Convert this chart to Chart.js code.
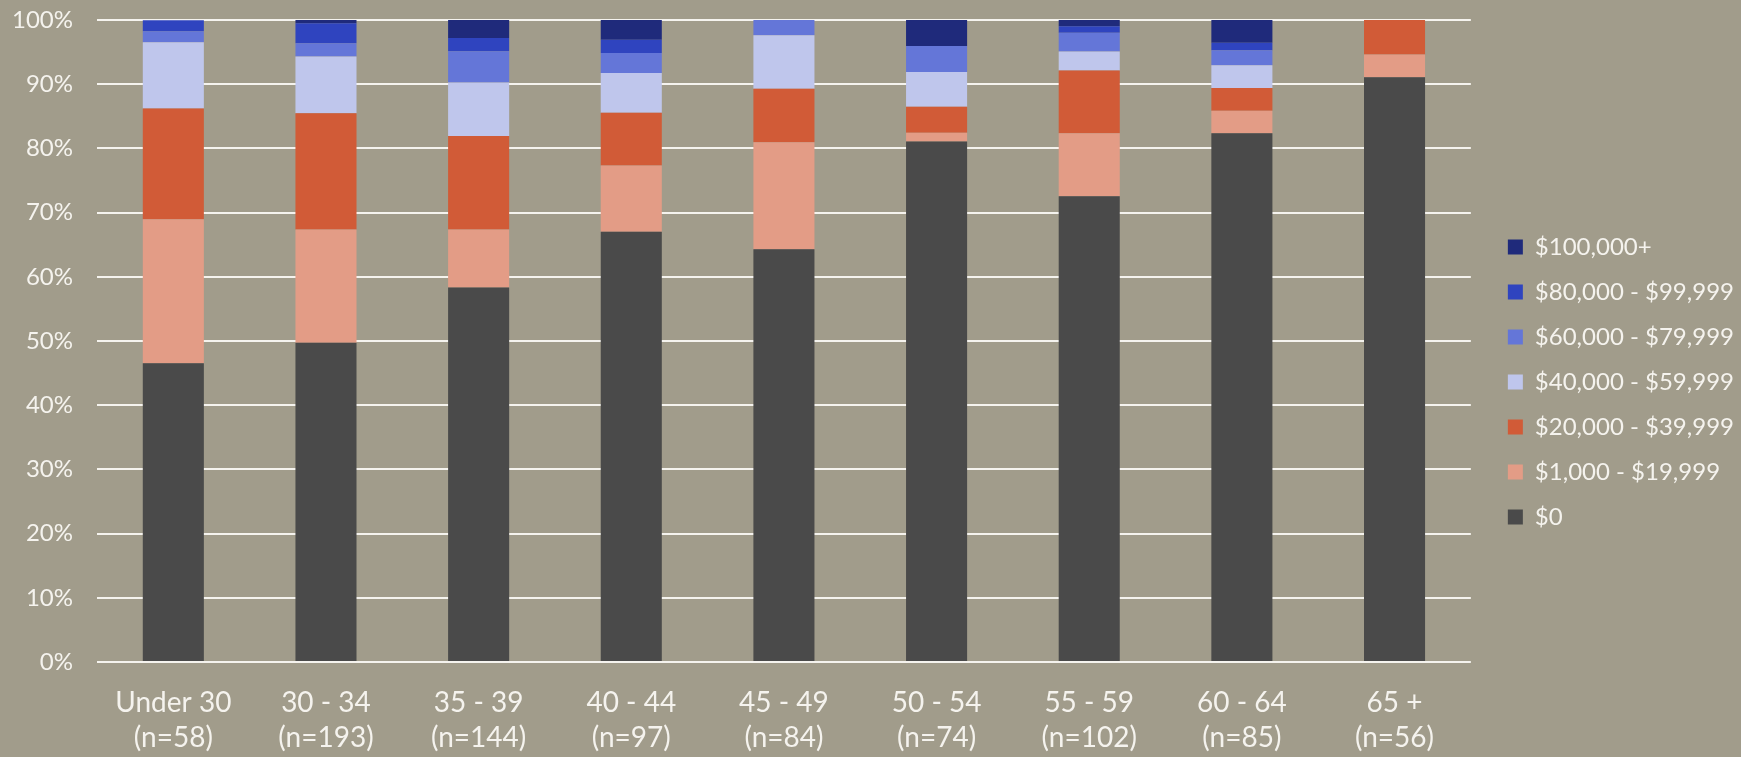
<!DOCTYPE html>
<html>
<head>
<meta charset="utf-8">
<script src="https://cdn.jsdelivr.net/npm/chart.js@4"></script>
<style>
    html, body { margin: 0; padding: 0; background: #a19c8b; }
    #wrap { width: 1741px; height: 757px; position: relative; }
</style>
</head>
<body>
<div id="wrap"><canvas id="chart"></canvas></div>
<script>
// Share of respondents by savings bracket, per age group (percent)
const ageGroups = ['Under 30', '30 - 34', '35 - 39', '40 - 44', '45 - 49', '50 - 54', '55 - 59', '60 - 64', '65 +'];
const sampleSizes = [58, 193, 144, 97, 84, 74, 102, 85, 56];

const bracketLabels = ['$0', '$1,000 - $19,999', '$20,000 - $39,999', '$40,000 - $59,999',
    '$60,000 - $79,999', '$80,000 - $99,999', '$100,000+'];
const bracketColors = ['#4a4a4a', '#e39c86', '#d15b37', '#bfc6ec', '#6476d8', '#2f44bf', '#1f2a7b'];

const zeroValues   = [46.55, 49.74, 58.33, 67.01, 64.29, 81.08, 72.55, 82.35, 91.07];
const k1Values     = [22.41, 17.62,  9.03, 10.31, 16.67,  1.35,  9.80,  3.53,  3.57];
const k20Values    = [17.24, 18.13, 14.58,  8.25,  8.33,  4.05,  9.80,  3.53,  5.36];
const k40Values    = [10.34,  8.81,  8.33,  6.19,  8.33,  5.41,  2.94,  3.53,  0];
const k60Values    = [ 1.72,  2.07,  4.86,  3.09,  2.38,  4.05,  2.94,  2.35,  0];
const k80Values    = [ 1.72,  3.11,  2.08,  2.06,  0,     0,     0.98,  1.18,  0];
const k100Values   = [ 0,     0.52,  2.78,  3.09,  0,     4.05,  0.98,  3.53,  0];

const yTicks = [0, 10, 20, 30, 40, 50, 60, 70, 80, 90, 100];

const seriesValues = [zeroValues, k1Values, k20Values, k40Values, k60Values, k80Values, k100Values];
const textColor = '#f5f3ee';
const fontFamily = 'Lato, "Open Sans", sans-serif';

// nudges the right-hand legend a little away from the plot
const legendShift = {
    id: 'legendShift',
    afterLayout(chart) {
        chart.legend.left += 16;
        chart.legend.right += 16;
    }
};

const ctx = document.getElementById('chart').getContext('2d');
new Chart(ctx, {
    type: 'bar',
    data: {
        labels: ageGroups.map((g, i) => [g, '(n=' + sampleSizes[i] + ')']),
        datasets: bracketLabels.map((label, i) => ({
            label: label,
            data: seriesValues[i],
            backgroundColor: bracketColors[i],
            borderWidth: 0,
            barPercentage: 0.4,
            categoryPercentage: 1.0
        }))
    },
    options: {
        responsive: true,
        maintainAspectRatio: false,
        animation: false,
        layout: {
            padding: { top: 7, right: 13, bottom: 0, left: 0 }
        },
        plugins: {
            legend: {
                position: 'right',
                reverse: true,
                labels: {
                    color: textColor,
                    boxWidth: 15,
                    boxHeight: 15,
                    padding: 21,
                    font: { family: fontFamily, size: 24 }
                }
            },
            tooltip: { enabled: false }
        },
        scales: {
            x: {
                stacked: true,
                afterFit(scale) { scale.height = 95; },
                grid: { display: false, drawTicks: false },
                border: { display: false },
                ticks: {
                    color: textColor,
                    padding: 23,
                    maxRotation: 0,
                    font: { family: fontFamily, size: 28, lineHeight: 1.27 }
                }
            },
            y: {
                stacked: true,
                min: 0,
                max: 100,
                afterFit(scale) {
                    scale.width = 97;
                    scale.paddingTop = 20;
                    scale.paddingBottom = 0;
                },
                afterBuildTicks(scale) { scale.ticks = yTicks.map(v => ({ value: v })); },
                grid: { color: textColor, lineWidth: 2, drawTicks: false },
                border: { display: false },
                ticks: {
                    color: textColor,
                    padding: 24,
                    font: { family: fontFamily, size: 24 },
                    callback: v => v + '%'
                }
            }
        }
    },
    plugins: [legendShift]
});
</script>
</body>
</html>
